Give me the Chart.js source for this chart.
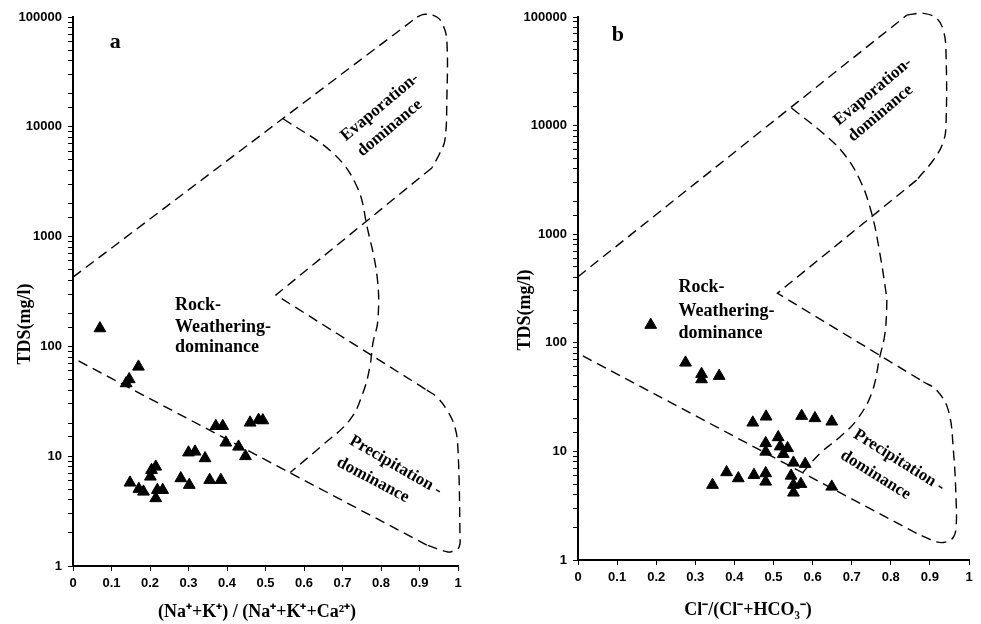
<!DOCTYPE html>
<html>
<head>
<meta charset="utf-8">
<script src="https://cdn.jsdelivr.net/npm/chart.js@4.4.0/dist/chart.umd.min.js"></script>
<style>
  html, body { margin: 0; padding: 0; background: #fff; }
  #wrap { position: relative; width: 981px; height: 624px; }
  .panel { position: absolute; top: 0; height: 624px; }
  #pa { left: 0; width: 490px; }
  #pb { left: 490px; width: 491px; }
</style>
</head>
<body>
<div id="wrap">
  <div class="panel" id="pa"><canvas id="chartA"></canvas></div>
  <div class="panel" id="pb"><canvas id="chartB"></canvas></div>
</div>
<script>
// samples, panel a: (Na+K)/(Na+K+Ca) vs TDS
const aRatio = [0.070, 0.170, 0.146, 0.138, 0.371, 0.389, 0.397, 0.430, 0.448, 0.460, 0.482, 0.493, 0.300, 0.317,
  0.343, 0.204, 0.215, 0.201, 0.148, 0.171, 0.183, 0.219, 0.233, 0.215, 0.280, 0.302, 0.355, 0.384];
const aTds = [146, 65.3, 50.2, 46.1, 18.8, 18.8, 13.3, 12.2, 10.0, 20.2, 21.4, 21.2, 10.8, 11.0,
  9.57, 7.48, 8.02, 6.51, 5.74, 5.03, 4.75, 4.92, 4.92, 4.14, 6.29, 5.47, 6.07, 6.07];

// samples, panel b: Cl/(Cl+HCO3) vs TDS
const bRatio = [0.186, 0.275, 0.316, 0.316, 0.361, 0.447, 0.481, 0.572, 0.606, 0.649, 0.512, 0.480, 0.480, 0.517, 0.536,
  0.525, 0.551, 0.581, 0.380, 0.410, 0.450, 0.480, 0.480, 0.344, 0.545, 0.551, 0.570, 0.551, 0.649];
const bTds = [146, 65.6, 51.6, 46.1, 49.5, 18.4, 20.9, 21.2, 20.2, 18.8, 13.5, 11.9, 9.93, 11.1, 10.7,
  9.46, 7.87, 7.66, 6.42, 5.65, 6.06, 6.29, 5.26, 4.91, 5.97, 4.91, 5.01, 4.17, 4.73];

// Gibbs boundaries, panel a
const aUpperX = [0, 0.894];
const aUpperY = [427, 100000];
const aTopX = [0.894, 0.914, 0.945, 0.961, 0.971, 0.971, 0.966, 0.953, 0.932];
const aTopY = [100000, 106000, 100000, 84500, 61700, 17500, 7580, 5770, 4220];
const aVertexX = [0.932, 0.527, 0.919];
const aVertexY = [4220, 294, 40];
const aBottomX = [0.919, 0.945, 0.971, 0.992, 1.0, 1.005, 1.003, 0.987, 0.974, 0.919];
const aBottomY = [40, 34.6, 26.4, 18.4, 11.4, 2.0, 1.49, 1.37, 1.34, 1.55];
const aLowerX = [0.919, 0];
const aLowerY = [1.55, 78.4];
const aArcX = [0.545, 0.675, 0.738, 0.764, 0.790, 0.792, 0.779, 0.771, 0.753, 0.719, 0.642, 0.564];
const aArcY = [11900, 5770, 2830, 1220, 429, 174, 107, 65, 37.6, 21.4, 12.1, 7.1];

// Gibbs boundaries, panel b
const bUpperX = [0, 0.841];
const bUpperY = [406, 104000];
const bTopX = [0.841, 0.883, 0.917, 0.934, 0.941, 0.941, 0.933, 0.909, 0.866];
const bTopY = [104000, 108000, 97300, 75900, 49700, 9770, 6870, 4820, 3150];
const bVertexX = [0.866, 0.510, 0.883];
const bVertexY = [3150, 286, 43.8];
const bBottomX = [0.883, 0.917, 0.947, 0.960, 0.967, 0.967, 0.960, 0.939, 0.917, 0.866];
const bBottomY = [43.8, 36.7, 24.0, 10.3, 3.57, 2.03, 1.62, 1.46, 1.47, 1.76];
const bLowerX = [0.866, 0];
const bLowerY = [1.76, 80];
const bArcX = [0.546, 0.627, 0.679, 0.721, 0.751, 0.772, 0.788, 0.790, 0.785, 0.772, 0.751, 0.713, 0.670, 0.619, 0.575];
const bArcY = [14500, 8490, 5560, 3160, 1560, 667, 286, 248, 122, 74.5, 34.3, 19.5, 13.6, 9.6, 6.4];

const serif = '"Liberation Serif", "Times New Roman", serif';
const sans = '"Liberation Sans", Arial, sans-serif';

const pts = (xs, ys) => xs.map((x, i) => ({ x, y: ys[i] }));

const boundary = (xs, ys, tension) => ({
  type: 'line',
  data: pts(xs, ys),
  borderColor: '#000',
  borderWidth: 1.4,
  borderDash: [10, 6],
  pointRadius: 0,
  fill: false,
  tension,
  clip: false,
});

// text inside the plot, anchored in data units
const notesPlugin = (panel) => ({
  id: 'notes',
  afterDatasetsDraw(chart) {
    const { ctx } = chart;
    const sx = chart.scales.x;
    const sy = chart.scales.y;
    ctx.save();
    ctx.fillStyle = '#000';
    ctx.textBaseline = 'middle';
    panel.notes.forEach((n) => {
      ctx.save();
      ctx.translate(sx.getPixelForValue(n.x), sy.getPixelForValue(n.y));
      ctx.rotate(((n.angle || 0) * Math.PI) / 180);
      ctx.font = `bold ${n.size || 17}px ${serif}`;
      ctx.textAlign = n.align || 'center';
      ctx.fillText(n.text, 0, 0);
      ctx.restore();
    });
    // axis titles
    ctx.font = `bold 18px ${serif}`;
    ctx.textAlign = 'center';
    ctx.fillText(panel.xTitle, panel.xTitlePos[0], panel.xTitlePos[1]);
    ctx.translate(panel.yTitlePos[0], panel.yTitlePos[1]);
    ctx.rotate(-Math.PI / 2);
    ctx.fillText('TDS(mg/l)', 0, 0);
    ctx.restore();
  },
});

const makeChart = (id, panel) => {
  const ctx = document.getElementById(id).getContext('2d');
  return new Chart(ctx, {
    type: 'scatter',
    data: {
      datasets: [
        {
          data: pts(panel.ratio, panel.tds),
          pointStyle: 'triangle',
          pointRadius: 6.8,
          backgroundColor: '#000',
          borderColor: '#000',
          borderWidth: 1,
          showLine: false,
          clip: false,
        },
        ...panel.lines,
      ],
    },
    options: {
      animation: false,
      responsive: true,
      maintainAspectRatio: false,
      layout: { padding: { top: 17, right: panel.padRight, left: 0, bottom: 0 } },
      scales: {
        x: {
          type: 'linear',
          min: 0,
          max: 1,
          afterFit: (s) => { s.height = panel.xHeight; },
          ticks: {
            stepSize: 0.1,
            autoSkip: false,
            maxRotation: 0,
            padding: 5,
            color: '#000',
            font: { family: sans, size: 13, weight: 'bold' },
            callback: (v) => String(+v.toFixed(1)),
          },
          grid: { drawOnChartArea: false, drawTicks: true, tickLength: 5, color: '#000', lineWidth: 1 },
          border: { color: '#000', width: 2 },
        },
        y: {
          type: 'logarithmic',
          min: 1,
          max: 100000,
          afterFit: (s) => { s.width = panel.yWidth; },
          ticks: {
            autoSkip: false,
            padding: 6,
            color: '#000',
            font: { family: sans, size: 13, weight: 'bold' },
            callback: (v) => {
              const l = Math.log10(v);
              return Math.abs(l - Math.round(l)) < 1e-9 ? String(Math.round(v)) : '';
            },
          },
          grid: { drawOnChartArea: false, drawTicks: true, tickLength: 5, color: '#000', lineWidth: 1 },
          border: { color: '#000', width: 2 },
        },
      },
      plugins: {
        legend: { display: false },
        tooltip: { enabled: false },
      },
    },
    plugins: [notesPlugin(panel)],
  });
};

makeChart('chartA', {
  ratio: aRatio,
  tds: aTds,
  lines: [
    boundary(aUpperX, aUpperY, 0),
    boundary(aTopX, aTopY, 0.4),
    boundary(aVertexX, aVertexY, 0),
    boundary(aBottomX, aBottomY, 0.4),
    boundary(aLowerX, aLowerY, 0),
    boundary(aArcX, aArcY, 0.4),
  ],
  padRight: 32,
  yWidth: 73,
  xHeight: 58,
  xTitle: '(Na\u207A+K\u207A) / (Na\u207A+K\u207A+Ca\u00B2\u207A)',
  xTitlePos: [257, 612],
  yTitlePos: [25, 324],
  notes: [
    { text: 'a', x: 0.110, y: 59200, size: 22 },
    { text: 'Evaporation-', x: 0.797, y: 15100, angle: -40 },
    { text: 'dominance', x: 0.823, y: 9750, angle: -40 },
    { text: 'Rock-', x: 0.265, y: 238, align: 'left', size: 18 },
    { text: 'Weathering-', x: 0.265, y: 150, align: 'left', size: 18 },
    { text: 'dominance', x: 0.265, y: 98.8, align: 'left', size: 18 },
    { text: 'Precipitation -', x: 0.838, y: 8.19, angle: 30 },
    { text: 'dominance', x: 0.779, y: 6.07, angle: 28 },
  ],
});

makeChart('chartB', {
  ratio: bRatio,
  tds: bTds,
  lines: [
    boundary(bUpperX, bUpperY, 0),
    boundary(bTopX, bTopY, 0.4),
    boundary(bVertexX, bVertexY, 0),
    boundary(bBottomX, bBottomY, 0.4),
    boundary(bLowerX, bLowerY, 0),
    boundary(bArcX, bArcY, 0.4),
  ],
  padRight: 12,
  yWidth: 88,
  xHeight: 64,
  xTitle: 'Cl\u207B/(Cl\u207B+HCO\u2083\u207B)',
  xTitlePos: [258, 610],
  yTitlePos: [35, 310],
  notes: [
    { text: 'b', x: 0.102, y: 68200, size: 22 },
    { text: 'Evaporation-', x: 0.754, y: 20500, angle: -40 },
    { text: 'dominance', x: 0.774, y: 13000, angle: -40 },
    { text: 'Rock-', x: 0.257, y: 326, align: 'left', size: 18 },
    { text: 'Weathering-', x: 0.257, y: 193, align: 'left', size: 18 },
    { text: 'dominance', x: 0.257, y: 122, align: 'left', size: 18 },
    { text: 'Precipitation -', x: 0.821, y: 8.2, angle: 32 },
    { text: 'dominance', x: 0.761, y: 6.07, angle: 32 },
  ],
});
</script>
</body>
</html>
